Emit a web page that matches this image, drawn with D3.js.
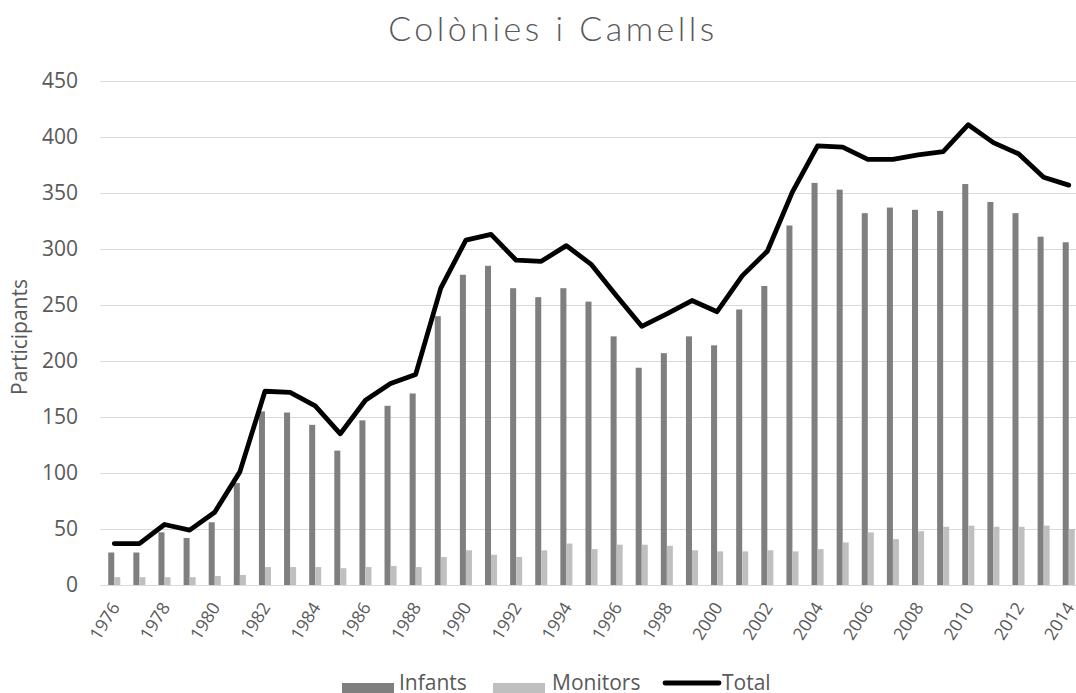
<!DOCTYPE html>
<html>
<head>
<meta charset="utf-8">
<script src="https://cdn.jsdelivr.net/npm/d3@7"></script>
<style>
  body { margin: 0; background: #fff; }
  svg { display: block; }
  text { font-family: "Open Sans", sans-serif; fill: #595959; }
</style>
</head>
<body>
<svg id="chart"></svg>
<script>
// data
var years = [1976,1977,1978,1979,1980,1981,1982,1983,1984,1985,1986,1987,1988,1989,
             1990,1991,1992,1993,1994,1995,1996,1997,1998,1999,2000,2001,2002,2003,
             2004,2005,2006,2007,2008,2009,2010,2011,2012,2013,2014];
var infants = [29,29,47,42,56,91,155,154,143,120,147,160,171,240,
               277,285,265,257,265,253,222,194,207,222,214,246,267,321,
               359,353,332,337,335,334,358,342,332,311,306];
var monitors = [7,7,7,7,8,9,16,16,16,15,16,17,16,25,
                31,27,25,31,37,32,36,36,35,31,30,30,31,30,
                32,38,47,41,48,52,53,52,52,53,50];
var total = [37,37,54,49,65,101,173,172,160,135,165,180,188,265,
             308,313,290,289,303,286,258,231,242,254,244,276,298,351,
             392,391,380,380,384,387,411,395,385,364,357];
var yTicks = [0,50,100,150,200,250,300,350,400,450];
var seriesNames = ["Infants","Monitors"];

var W = 1076, H = 693;
var plotLeft = 101.7, plotRight = 1081.3, plotTop = 81, plotBottom = 585;

var svg = d3.select("#chart").attr("width", W).attr("height", H);

// title
svg.append("text")
    .attr("x", 553).attr("y", 41)
    .attr("text-anchor", "middle")
    .style("font-family", "Lato, sans-serif")
    .style("font-weight", 300)
    .style("font-size", "34px")
    .style("letter-spacing", "3.5px")
    .text("Colònies i Camells");

var y = d3.scaleLinear().domain([0, 450]).range([plotBottom, plotTop]);

var x = d3.scaleBand()
    .domain(years)
    .range([plotLeft, plotRight])
    .paddingInner(0.52)
    .paddingOuter(0.26);

var xSub = d3.scaleBand()
    .domain(seriesNames)
    .range([0, x.bandwidth()]);

var color = d3.scaleOrdinal()
    .domain(seriesNames)
    .range(["#7f7f7f", "#bfbfbf"]);

// y axis + gridlines
var yAxis = svg.append("g")
    .attr("transform", "translate(100,0)")
    .call(d3.axisLeft(y).tickValues(yTicks).tickSize(-(W - 100)).tickPadding(22));
yAxis.select(".domain").remove();
yAxis.selectAll("line").attr("stroke", "#d9d9d9").attr("stroke-width", 1.2);
yAxis.selectAll("text")
    .style("font-family", "Open Sans, sans-serif")
    .style("font-size", "21px")
    .attr("fill", "#595959");

// y axis title
svg.append("text")
    .attr("transform", "translate(27,337) rotate(-90)")
    .attr("text-anchor", "middle")
    .style("font-size", "21px")
    .text("Participants");

// x axis
var xAxis = svg.append("g")
    .attr("transform", "translate(0," + plotBottom + ")")
    .call(d3.axisBottom(x)
        .tickValues(years.filter(function(d, i) { return i % 2 === 0; }))
        .tickSize(0));
xAxis.select(".domain").remove();
xAxis.selectAll("text")
    .style("font-family", "Open Sans, sans-serif")
    .style("font-size", "17.5px")
    .attr("fill", "#595959")
    .attr("text-anchor", "end")
    .attr("dy", "0.35em")
    .attr("transform", "translate(1,19) rotate(-58)")
    .attr("y", 0);

// bars
var rows = years.map(function(yr, i) {
  return {year: yr, Infants: infants[i], Monitors: monitors[i]};
});

svg.append("g")
  .selectAll("g")
  .data(rows)
  .enter()
  .append("g")
    .attr("transform", function(d) { return "translate(" + x(d.year) + ",0)"; })
  .selectAll("rect")
  .data(function(d) { return seriesNames.map(function(key) { return {key: key, value: d[key]}; }); })
  .enter().append("rect")
    .attr("x", function(d) { return xSub(d.key); })
    .attr("y", function(d) { return y(d.value); })
    .attr("width", xSub.bandwidth())
    .attr("height", function(d) { return plotBottom - y(d.value); })
    .attr("fill", function(d) { return color(d.key); });

// total line
var line = d3.line()
    .x(function(d, i) { return x(years[i]) + x.bandwidth() / 2; })
    .y(function(d) { return y(d); });

svg.append("path")
    .datum(total)
    .attr("d", line)
    .attr("fill", "none")
    .attr("stroke", "#000")
    .attr("stroke-width", 4.8)
    .attr("stroke-linejoin", "round")
    .attr("stroke-linecap", "round");

// legend
var leg = svg.append("g").attr("class", "legend");
leg.append("rect").attr("x", 342).attr("y", 683).attr("width", 52).attr("height", 16).attr("fill", color("Infants"));
leg.append("text").attr("x", 399).attr("y", 690).style("font-size", "21px").text("Infants");
leg.append("rect").attr("x", 493).attr("y", 683).attr("width", 52).attr("height", 16).attr("fill", color("Monitors"));
leg.append("text").attr("x", 552).attr("y", 690).style("font-size", "21px").text("Monitors");
leg.append("line").attr("x1", 665).attr("x2", 719).attr("y1", 683).attr("y2", 683)
    .attr("stroke", "#000").attr("stroke-width", 4.8).attr("stroke-linecap", "round");
leg.append("text").attr("x", 722).attr("y", 690).style("font-size", "21px").text("Total");
</script>
</body>
</html>
